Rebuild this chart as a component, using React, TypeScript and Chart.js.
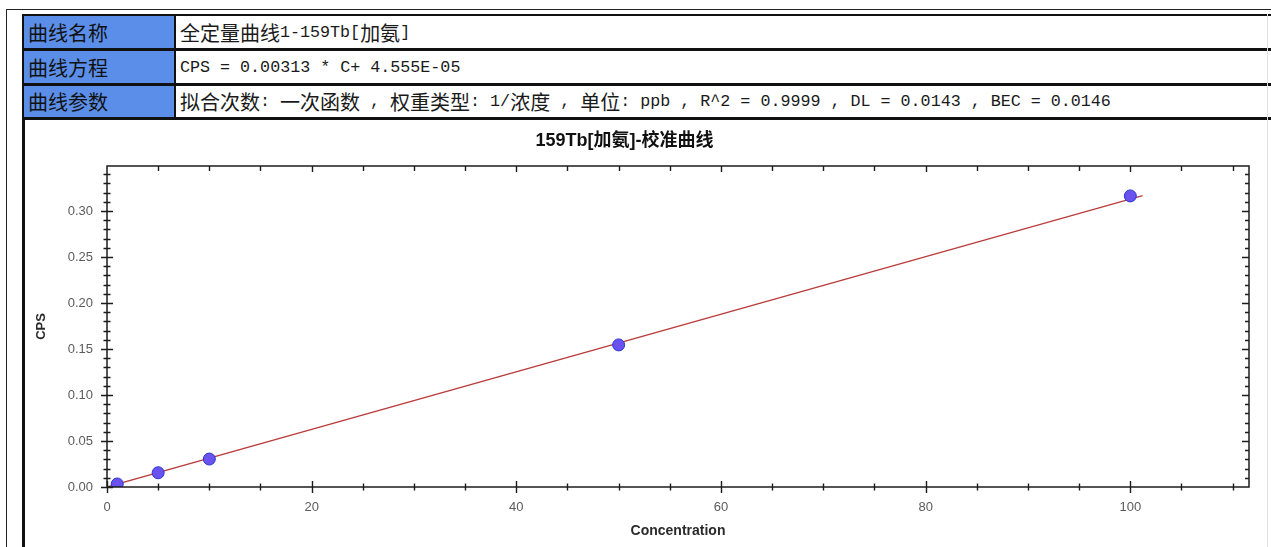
import React, { useEffect, useRef } from "react";
import { Chart, registerables } from "chart.js";

Chart.register(...registerables);

// ---------- data ----------
const rowLabels = ["曲线名称", "曲线方程", "曲线参数"];
const rowValues = [
  "全定量曲线1-159Tb[加氨]",
  "CPS = 0.00313 * C+ 4.555E-05",
  "拟合次数: 一次函数 , 权重类型: 1/浓度 , 单位: ppb , R^2 = 0.9999 , DL = 0.0143 , BEC = 0.0146",
];

const chartTitle = "159Tb[加氨]-校准曲线";
const xAxisTitle = "Concentration";
const yAxisTitle = "CPS";

const concentrations = [1, 5, 10, 50, 100];
const cpsValues = [0.0033, 0.0155, 0.0304, 0.1545, 0.3165];

const fitLineX = [0, 101.2];
const fitLineY = [0.00005, 0.3168];

const xMin = 0;
const xMax = 111.6;
const xMajorStep = 20;
const xMinorStep = 5;
const yMin = 0;
const yMax = 0.349;
const yMajorStep = 0.05;
const yMinorStep = 0.01;

// ---------- helpers ----------
const CJK_RE = /([\u2E80-\u9FFF\uF900-\uFAFF\uFF00-\uFFEF]+)/;

function Mixed({ text }: { text: string }) {
  const parts = text.split(CJK_RE).filter((p) => p.length > 0);
  return (
    <>
      {parts.map((p, i) =>
        /[\u2E80-\u9FFF\uF900-\uFAFF\uFF00-\uFFEF]/.test(p) ? (
          <span key={i} style={{ fontFamily: "'Noto Sans CJK SC', sans-serif", fontSize: 20 }}>
            {p}
          </span>
        ) : (
          <span
            key={i}
            style={{ fontFamily: "'Liberation Mono', monospace", fontSize: 16.7, whiteSpace: "pre" }}
          >
            {p}
          </span>
        )
      )}
    </>
  );
}

const isMultiple = (v: number, step: number) => Math.abs(v / step - Math.round(v / step)) < 1e-6;

const frameTicks = {
  id: "frameTicks",
  afterDatasetsDraw(chart: any) {
    const { ctx, chartArea } = chart;
    const { left, right, top, bottom } = chartArea;
    const xs = chart.scales.x;
    const ys = chart.scales.y;
    ctx.save();
    ctx.strokeStyle = "#1c1c1c";
    ctx.lineWidth = 1.5;
    ctx.strokeRect(left, top, right - left, bottom - top);
    ctx.lineWidth = 1.4;
    ctx.beginPath();
    for (let i = 0; ; i++) {
      const v = xMin + i * xMinorStep;
      if (v > xMax + 1e-9) break;
      const px = Math.round(xs.getPixelForValue(v)) + 0.5;
      const major = isMultiple(v, xMajorStep);
      const len = major ? 6 : 3.5;
      ctx.moveTo(px, bottom - len);
      ctx.lineTo(px, bottom + len);
      if (v > xMin) {
        ctx.moveTo(px, top);
        ctx.lineTo(px, top + (major ? 6 : 5));
      }
    }
    for (let i = 0; ; i++) {
      const v = yMin + i * yMinorStep;
      if (v > yMax + 1e-9) break;
      const py = Math.round(ys.getPixelForValue(v)) + 0.5;
      const major = isMultiple(v, yMajorStep);
      const len = major ? 6 : 3.5;
      ctx.moveTo(left - len, py);
      ctx.lineTo(left + len, py);
      if (v > yMin) {
        ctx.moveTo(right, py);
        ctx.lineTo(right - (major ? 7 : 4), py);
      }
    }
    ctx.stroke();
    ctx.restore();
  },
};

export default function App() {
  const canvasRef = useRef<HTMLCanvasElement | null>(null);

  useEffect(() => {
    const canvas = canvasRef.current;
    if (!canvas) return;
    const tickFont = { family: "'Liberation Sans', Arial, sans-serif", size: 13 };
    const chart = new Chart(canvas, {
      type: "scatter",
      data: {
        datasets: [
          {
            label: "Standards",
            data: concentrations.map((c, i) => ({ x: c, y: cpsValues[i] })),
            showLine: false,
            clip: 0,
            pointRadius: 6,
            pointBackgroundColor: "#6a52ee",
            pointBorderColor: "#2a36cf",
            pointBorderWidth: 1,
          },
          {
            label: "Fit",
            data: fitLineX.map((c, i) => ({ x: c, y: fitLineY[i] })),
            showLine: true,
            borderColor: "#b83c3c",
            borderWidth: 1.3,
            pointRadius: 0,
          },
        ],
      },
      options: {
        responsive: false,
        animation: false,
        layout: { padding: { top: 120, left: 0, right: 22, bottom: 0 } },
        plugins: {
          legend: { display: false },
          tooltip: { enabled: false },
          title: {
            display: true,
            text: chartTitle,
            color: "#111",
            font: {
              family: "'Liberation Sans', 'Noto Sans CJK SC', sans-serif",
              size: 18,
              weight: "bold",
            },
            padding: { top: 10, bottom: 14.4 },
          },
        },
        scales: {
          x: {
            type: "linear",
            min: xMin,
            max: xMax,
            afterFit: (s: any) => {
              s.height = 60;
            },
            grid: { display: false, drawTicks: false },
            border: { display: false },
            ticks: {
              stepSize: xMajorStep,
              includeBounds: false,
              padding: 13,
              maxRotation: 0,
              color: "#5c5c5c",
              font: tickFont,
            },
            title: {
              display: true,
              text: xAxisTitle,
              color: "#2a2a2a",
              font: { family: "'Liberation Sans', Arial, sans-serif", size: 14, weight: "bold" },
              padding: { top: 0, bottom: 7.6 },
            },
          },
          y: {
            type: "linear",
            min: yMin,
            max: yMax,
            afterFit: (s: any) => {
              s.width = 107;
            },
            grid: { display: false, drawTicks: false },
            border: { display: false },
            ticks: {
              stepSize: yMajorStep,
              includeBounds: false,
              padding: 14,
              color: "#5c5c5c",
              font: tickFont,
              callback: (v: any) => Number(v).toFixed(2),
            },
            title: {
              display: true,
              text: yAxisTitle,
              color: "#2a2a2a",
              font: { family: "'Liberation Sans', Arial, sans-serif", size: 13, weight: "bold" },
              padding: { top: 34, bottom: 0 },
            },
          },
        },
      },
      plugins: [frameTicks],
    } as any);
    return () => chart.destroy();
  }, []);

  const rowTops = [16, 51, 86];
  const rowHeights = [32, 32, 31];

  return (
    <div
      style={{
        position: "absolute",
        left: 0,
        top: 0,
        width: 1271,
        height: 547,
        overflow: "hidden",
        background: "#fff",
        color: "#111",
      }}
    >
      {/* outer thin frame */}
      <div
        style={{
          position: "absolute",
          left: 6,
          top: 9,
          width: 1270,
          height: 600,
          borderTop: "1px solid #222",
          borderLeft: "1px solid #222",
        }}
      />
      {/* table block */}
      <div style={{ position: "absolute", left: 22, top: 14, width: 1249, height: 106, background: "#111" }} />
      {/* left border of chart box */}
      <div style={{ position: "absolute", left: 22, top: 14, width: 2.5, height: 540, background: "#111" }} />
      {rowLabels.map((lab, i) => (
        <React.Fragment key={i}>
          <div
            style={{
              position: "absolute",
              left: 24,
              top: rowTops[i],
              width: 150,
              height: rowHeights[i],
              background: "#5b8ee8",
              display: "flex",
              alignItems: "center",
              paddingLeft: 4,
              boxSizing: "border-box",
              fontFamily: "'Noto Sans CJK SC', sans-serif",
              fontSize: 20,
              color: "#111",
              whiteSpace: "nowrap",
            }}
          >
            {lab}
          </div>
          <div
            style={{
              position: "absolute",
              left: 176,
              top: rowTops[i],
              width: 1095,
              height: rowHeights[i],
              background: "#fff",
              display: "flex",
              alignItems: "center",
              paddingLeft: 4,
              boxSizing: "border-box",
              whiteSpace: "nowrap",
              color: "#1a1a1a",
            }}
          >
            <Mixed text={rowValues[i]} />
          </div>
        </React.Fragment>
      ))}
      {/* faint right edge */}
      <div style={{ position: "absolute", left: 1267, top: 14, width: 1, height: 540, background: "#e2e2e2" }} />
      {/* chart box interior */}
      <div style={{ position: "absolute", left: 24.5, top: 120, width: 1242, height: 430, background: "#fff" }} />
      <canvas
        ref={canvasRef}
        width={1271}
        height={547}
        style={{ position: "absolute", left: 0, top: 0, width: 1271, height: 547, pointerEvents: "none" }}
      />
    </div>
  );
}
